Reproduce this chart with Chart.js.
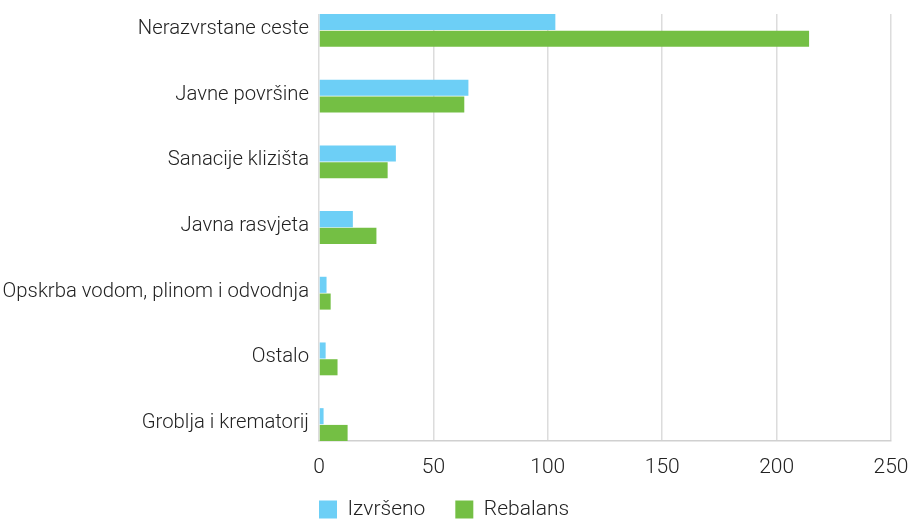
<!DOCTYPE html>
<html>
<head>
<meta charset="utf-8">
<script src="https://cdn.jsdelivr.net/npm/chart.js@4"></script>
<style>
  html, body { margin: 0; padding: 0; background: #fff; }
  #wrap { width: 911px; height: 519px; }
</style>
</head>
<body>
<div id="wrap"><canvas id="myBarChart"></canvas></div>
<script>
var categories = ['Nerazvrstane ceste', 'Javne površine', 'Sanacije klizišta', 'Javna rasvjeta',
    'Opskrba vodom, plinom i odvodnja', 'Ostalo', 'Groblja i krematorij'];
var izvrseno = [103.3, 65.3, 33.6, 14.8, 3.3, 2.9, 2.0];
var rebalans = [214.2, 63.5, 30.0, 25.1, 5.1, 8.1, 12.5];
var xTicks = [0, 50, 100, 150, 200, 250];

var fontFamily = 'Roboto, sans-serif';
var legendPadding = 30;

// move the legend so its first box lines up with the plot's left edge
var legendShift = {
    id: 'legendShift',
    afterLayout: function (chart) {
        var lg = chart.legend;
        lg.left -= legendPadding;
        lg.right -= legendPadding;
        lg.top = 499 - legendPadding;
        lg.bottom = chart.height;
    }
};

document.addEventListener('DOMContentLoaded', function () {
    var ctx = document.getElementById('myBarChart').getContext('2d');
    new Chart(ctx, {
        type: 'bar',
        data: {
            datasets: [{
                label: 'Izvršeno',
                data: izvrseno.map(function (v, i) { return { x: v, y: i }; }),
                backgroundColor: '#6dcff6',
                categoryPercentage: 0.51,
                barPercentage: 0.96
            }, {
                label: 'Rebalans',
                data: rebalans.map(function (v, i) { return { x: v, y: i }; }),
                backgroundColor: '#74bf44',
                categoryPercentage: 0.51,
                barPercentage: 0.96
            }]
        },
        plugins: [legendShift],
        options: {
            indexAxis: 'y',
            responsive: true,
            maintainAspectRatio: false,
            animation: false,
            layout: { padding: { top: 14, right: 8, bottom: 0, left: 0 } },
            plugins: {
                tooltip: { enabled: false },
                legend: {
                    position: 'bottom',
                    align: 'start',
                    fullSize: false,
                    maxHeight: 38,
                    labels: {
                        boxWidth: 18,
                        boxHeight: 18,
                        padding: legendPadding,
                        color: '#222',
                        font: { family: fontFamily, size: 21, weight: 300 }
                    }
                }
            },
            scales: {
                y: {
                    type: 'linear',
                    reverse: true,
                    offset: false,
                    min: -0.25,
                    max: 6.25,
                    afterFit: function (s) {
                        s.width = 319;
                        s.paddingTop = 0;
                        s.paddingBottom = 0;
                    },
                    afterBuildTicks: function (s) {
                        s.ticks = categories.map(function (c, i) { return { value: i }; });
                    },
                    grid: { display: false, drawTicks: false },
                    border: { display: false },
                    ticks: {
                        padding: 10,
                        labelOffset: -1.5,
                        color: '#222',
                        font: { family: fontFamily, size: 20.3, weight: 300 },
                        callback: function (v) { return categories[v]; }
                    }
                },
                x: {
                    min: 0,
                    max: 250,
                    afterFit: function (s) {
                        s.height = 40;
                        s.paddingRight = 20;
                    },
                    afterBuildTicks: function (s) {
                        s.ticks = xTicks.map(function (v) { return { value: v }; });
                    },
                    grid: { color: '#dcdcdc', lineWidth: 1.5, drawTicks: false },
                    border: { color: '#d0d0d0', width: 1.5 },
                    ticks: {
                        padding: 14,
                        color: '#222',
                        font: { family: fontFamily, size: 21, weight: 300 }
                    }
                }
            }
        }
    });
});
</script>
</body>
</html>
